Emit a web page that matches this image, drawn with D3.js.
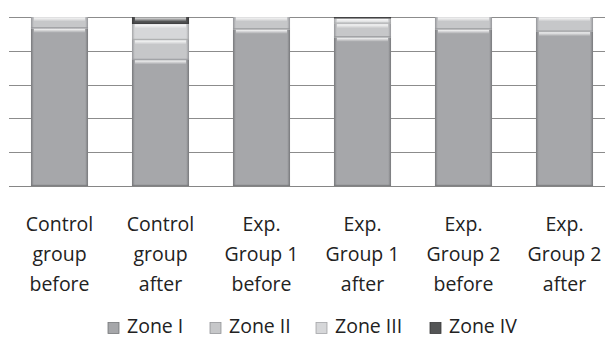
<!DOCTYPE html>
<html><head><meta charset="utf-8">
<script src="https://cdn.jsdelivr.net/npm/d3@7"></script>
<style>body{margin:0;background:#fff}svg{display:block}text{font-family:"Open Sans",Lato,sans-serif;fill:#222}</style>
</head><body>
<svg id="c" width="605" height="338"></svg>
<script>
const categories = ["Control group before","Control group after","Exp. Group 1 before","Exp. Group 1 after","Exp. Group 2 before","Exp. Group 2 after"];
const labelLines = [["Control","group","before"],["Control","group","after"],["Exp.","Group 1","before"],["Exp.","Group 1","after"],["Exp.","Group 2","before"],["Exp.","Group 2","after"]];
const zones = ["Zone I","Zone II","Zone III","Zone IV"];
const zoneI   = [93.3, 74.6, 92.7, 88.0, 92.7, 91.3];
const zoneII  = [6.7, 11.8, 7.3, 8.0, 7.3, 8.7];
const zoneIII = [0, 9.5, 0, 3.2, 0, 0];
const zoneIV  = [0, 4.1, 0, 0.8, 0, 0];
const yTicks = [0, 20, 40, 60, 80, 100];
const colors = ["#a6a7aa", "#c6c7c9", "#d6d7d9", "#545556"];
const edgeColors = ["#77787b", "#95969a", "#a5a6a8", "#3a3a3b"];

const svg = d3.select("#c");
const defs = svg.append("defs");
zones.forEach((z, i) => {
  const g = defs.append("linearGradient").attr("id", "hg" + i).attr("x1", 0).attr("x2", 1).attr("y1", 0).attr("y2", 0);
  g.append("stop").attr("offset", "0%").attr("stop-color", edgeColors[i]);
  g.append("stop").attr("offset", "5%").attr("stop-color", colors[i]);
  g.append("stop").attr("offset", "95%").attr("stop-color", colors[i]);
  g.append("stop").attr("offset", "100%").attr("stop-color", edgeColors[i]);
});
const hl = defs.append("linearGradient").attr("id", "hl").attr("x1", 0).attr("x2", 0).attr("y1", 0).attr("y2", 1);
hl.append("stop").attr("offset", "0%").attr("stop-color", "#fff").attr("stop-opacity", 0.9);
hl.append("stop").attr("offset", "100%").attr("stop-color", "#fff").attr("stop-opacity", 0);

const x = d3.scaleBand().domain(categories).range([9, 615]).paddingInner(0.435).paddingOuter(0.2175);
const y = d3.scaleLinear().domain([0, 100]).range([186, 17]);

// gridlines
svg.append("g").selectAll("line").data(yTicks).join("line")
  .attr("x1", 9).attr("x2", 605)
  .attr("y1", d => Math.round(y(d)) + 0.5).attr("y2", d => Math.round(y(d)) + 0.5)
  .attr("stroke", d => d === 0 ? "#868686" : "#8c8c8c").attr("stroke-width", 1);

const table = categories.map((c, i) => ({cat: c, "Zone I": zoneI[i], "Zone II": zoneII[i], "Zone III": zoneIII[i], "Zone IV": zoneIV[i]}));
const stacked = d3.stack().keys(zones)(table);

stacked.forEach((layer, li) => {
  const g = svg.append("g");
  layer.forEach(d => {
    const h = y(d[0]) - y(d[1]);
    if (h <= 0.01) return;
    const x0 = x(d.data.cat), w = x.bandwidth(), top = y(d[1]);
    g.append("rect").attr("x", x0).attr("y", top).attr("width", w).attr("height", h).attr("fill", `url(#hg${li})`);
    g.append("rect").attr("x", x0).attr("y", top + h - Math.min(1.2, h)).attr("width", w).attr("height", Math.min(1.2, h)).attr("fill", edgeColors[li]).attr("opacity", 0.8);
    if (h > 2) g.append("rect").attr("x", x0 + 3).attr("y", top + 0.5).attr("width", w - 6).attr("height", Math.min(4, h - 1.5)).attr("fill", "url(#hl)");
  });
});

// x labels
const lab = svg.append("g");
categories.forEach((c, i) => {
  const cx = x(c) + x.bandwidth() / 2;
  labelLines[i].forEach((t, j) => {
    lab.append("text").attr("x", cx).attr("y", 230.5 + j * 30).attr("text-anchor", "middle").attr("font-size", 19.5).text(t);
  });
});

// legend
const legX = [108, 210, 316, 430];
const leg = svg.append("g");
zones.forEach((z, i) => {
  leg.append("rect").attr("x", legX[i]).attr("y", 322.5).attr("width", 11).attr("height", 11).attr("fill", `url(#hg${i})`).attr("stroke", edgeColors[i]).attr("stroke-width", 0.8);
  leg.append("text").attr("x", legX[i] + 19).attr("y", 333).attr("font-size", 19.5).text(z);
});
</script>
</body></html>
